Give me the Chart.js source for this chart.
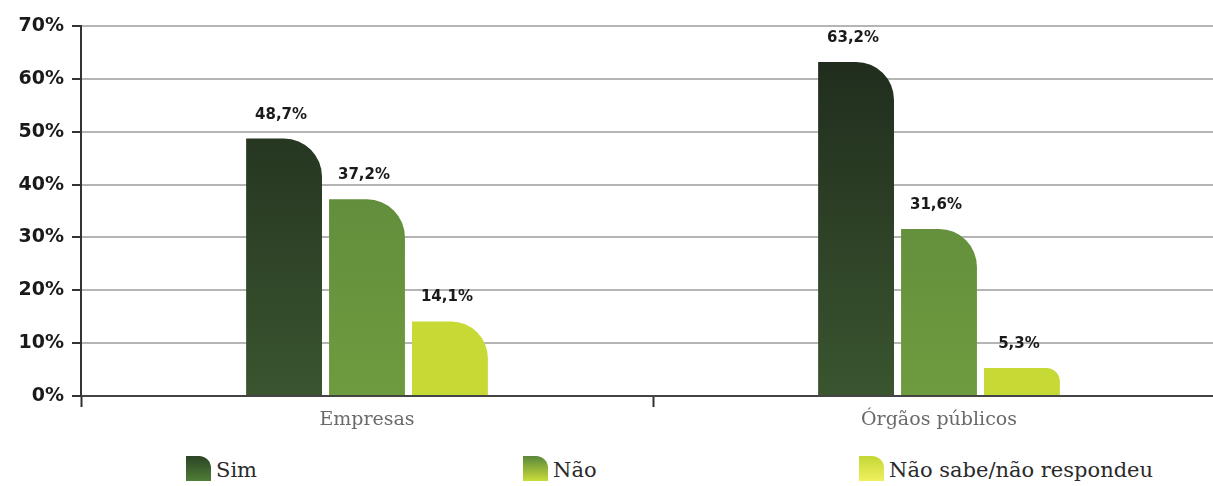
<!DOCTYPE html>
<html>
<head>
<meta charset="utf-8">
<script src="https://cdn.jsdelivr.net/npm/chart.js@4.4.1/dist/chart.umd.min.js"></script>
<style>
  html, body { margin: 0; padding: 0; background: #fff; overflow: hidden; }
  #wrap { position: relative; width: 1225px; height: 440px; }
  #legend { position: absolute; top: 455px; left: 0; width: 1213px; height: 30px; }
  .item { position: absolute; top: 0; display: flex; align-items: flex-end; height: 27px;
          font-family: "DejaVu Serif", "Liberation Serif", serif; font-size: 21px; color: #2a2a2a; }
  .icon { width: 25px; height: 25px; border-top-right-radius: 12px; margin-right: 5px; margin-bottom: 1px; }
</style>
</head>
<body>
<div id="wrap"><canvas id="chart"></canvas></div>
<div id="legend"></div>
<script>
"use strict";

// Survey answers by respondent type
const categories = ["Empresas", "Órgãos públicos"];
const seriesNames = ["Sim", "Não", "Não sabe/não respondeu"];
const simValues = [48.7, 63.2];
const naoValues = [37.2, 31.6];
const naoSabeValues = [14.1, 5.3];
const yTicks = [0, 10, 20, 30, 40, 50, 60, 70];

// Bar gradients (top colour, bottom colour) and legend icon gradients
const barColors = [["#1e291c", "#3a552f"], ["#58823a", "#6f9b3f"], ["#cbdb34", "#c6d935"]];
const iconColors = [["#2c4426", "#4f7d36"], ["#5b873a", "#c9dd3b"], ["#c3d836", "#f1f05c"]];
const legendX = [186, 523, 859];

const labelFont = '"DejaVu Sans", "Lato", sans-serif';

function barGradient(index) {
    return function(context) {
        const area = context.chart.chartArea;
        if (!area) return barColors[index][0];
        const g = context.chart.ctx.createLinearGradient(0, area.top, 0, area.bottom);
        g.addColorStop(0, barColors[index][0]);
        g.addColorStop(1, barColors[index][1]);
        return g;
    };
}

// Value labels above each bar
const valueLabels = {
    id: 'valueLabels',
    afterDatasetsDraw(chart) {
        const ctx = chart.ctx;
        ctx.save();
        ctx.font = 'bold 15px ' + labelFont;
        ctx.fillStyle = '#1a1a1a';
        ctx.textAlign = 'center';
        ctx.textBaseline = 'alphabetic';
        chart.data.datasets.forEach(function(ds, di) {
            chart.getDatasetMeta(di).data.forEach(function(bar, i) {
                const txt = ds.data[i].toFixed(1).replace('.', ',') + '%';
                ctx.fillText(txt, bar.x - 3, bar.y - 20);
            });
        });
        ctx.restore();
    }
};

const datasets = [simValues, naoValues, naoSabeValues].map(function(values, i) {
    return {
        label: seriesNames[i],
        data: values,
        backgroundColor: barGradient(i),
        borderRadius: { topLeft: 0, topRight: 38, bottomLeft: 0, bottomRight: 0 },
        borderSkipped: false,
        barPercentage: 0.915,
        categoryPercentage: 0.435
    };
});

new Chart(document.getElementById('chart'), {
    type: 'bar',
    data: { labels: categories, datasets: datasets },
    options: {
        responsive: true,
        maintainAspectRatio: false,
        animation: false,
        layout: { padding: { top: 26, right: 0, left: 0, bottom: 0 } },
        plugins: {
            legend: { display: false },
            tooltip: { enabled: false }
        },
        scales: {
            x: {
                grid: {
                    drawOnChartArea: false,
                    drawTicks: true,
                    tickLength: 11,
                    tickColor: '#333',
                    tickWidth: 2,
                    offset: true
                },
                border: { color: '#444', width: 2 },
                ticks: {
                    padding: 2,
                    color: '#6a6a6a',
                    font: { family: '"DejaVu Serif", "Liberation Serif", serif', size: 19, weight: 300 }
                },
                afterFit(scale) { scale.height = 44; }
            },
            y: {
                min: 0,
                max: 70,
                afterBuildTicks(scale) {
                    scale.ticks = yTicks.map(function(v) { return { value: v }; });
                },
                grid: {
                    color: '#b5b5b5',
                    lineWidth: 2,
                    tickColor: '#333',
                    tickLength: 9,
                    tickWidth: 2
                },
                border: { color: '#333', width: 2 },
                ticks: {
                    padding: 8,
                    color: '#1a1a1a',
                    font: { family: labelFont, size: 19, weight: 'bold' },
                    callback: function(v) { return v + '%'; }
                },
                afterFit(scale) { scale.width = 81; }
            }
        }
    },
    plugins: [valueLabels]
});

// Legend with rounded-corner gradient icons
const legend = document.getElementById('legend');
seriesNames.forEach(function(name, i) {
    const item = document.createElement('div');
    item.className = 'item';
    item.style.left = legendX[i] + 'px';
    const icon = document.createElement('div');
    icon.className = 'icon';
    icon.style.background = 'linear-gradient(to bottom, ' + iconColors[i][0] + ', ' + iconColors[i][1] + ')';
    const text = document.createElement('span');
    text.textContent = name;
    item.appendChild(icon);
    item.appendChild(text);
    legend.appendChild(item);
});
</script>
</body>
</html>
